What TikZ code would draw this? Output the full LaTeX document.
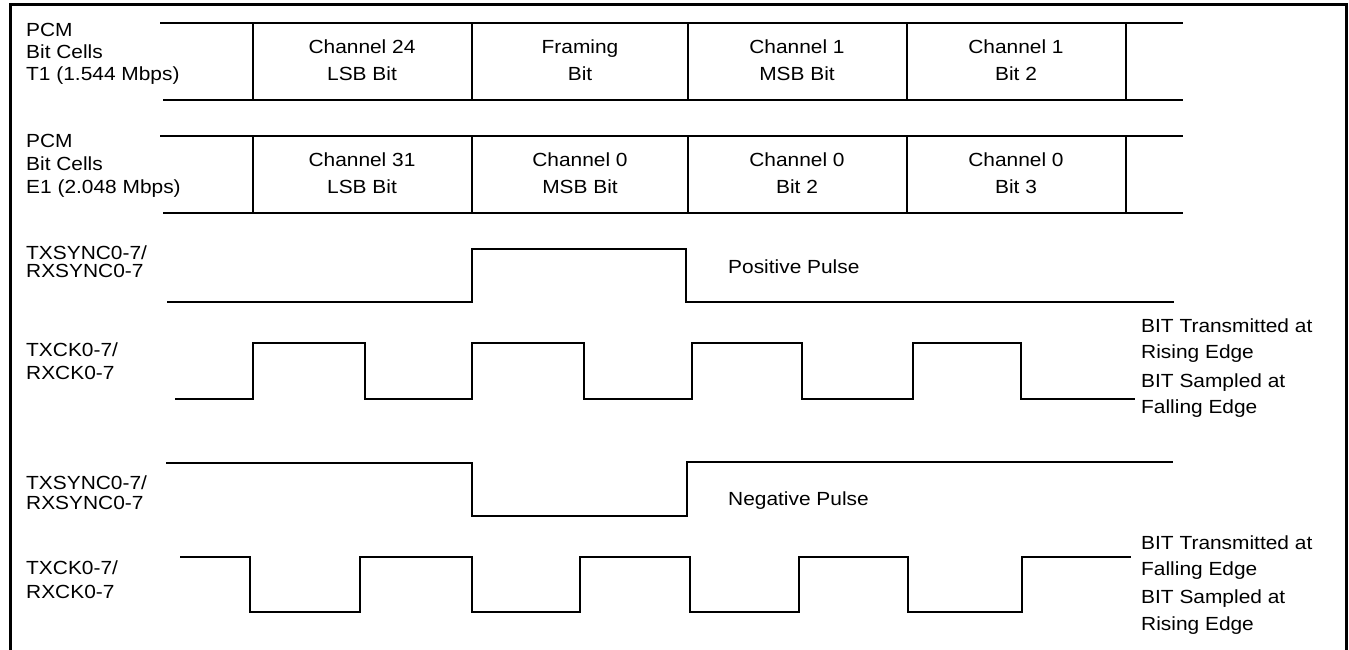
\documentclass[tikz,border=0pt]{standalone}
\usepackage{fontspec}
\setmainfont{Liberation Sans}[FakeStretch=1.1]
\begin{document}
\begin{tikzpicture}[x=1pt,y=-1pt,
  frame/.style={line width=3pt},
  sig/.style={line width=1.8pt,line join=miter},
  txt/.style={font=\fontsize{19}{22}\selectfont,inner sep=0pt},
  lbl/.style={txt,anchor=base west},
  ctr/.style={txt,anchor=base}]
\useasboundingbox (0,0) rectangle (1349,650);
% outer frame
\draw[frame] (10,650) -- (10,5) -- (1346,5) -- (1346,650);

% ---- bit cell rows
\foreach \yt/\yb in {23/100,136/213}{
  \draw[sig] (160,\yt) -- (1183,\yt);
  \draw[sig] (163,\yb) -- (1183,\yb);
  \foreach \x in {253,472,688,907,1126}
    \draw[sig] (\x,\yt) -- (\x,\yb);
}
% left labels
\node[lbl] (p1) at (26,37) {PCM};
\node[lbl] (b1) at (26,59) {Bit Cells};
\node[lbl] (t1) at (26,81) {T1 (1.544 Mbps)};
\node[lbl] (p2) at (26,148) {PCM};
\node[lbl] (b2) at (26,170) {Bit Cells};
\node[lbl] (e1) at (26,193) {E1 (2.048 Mbps)};
\node[lbl] (s1a) at (26,259) {TXSYNC0-7/};
\node[lbl] (s1b) at (26,277) {RXSYNC0-7};
\node[lbl] (c1a) at (26,356) {TXCK0-7/};
\node[lbl] (c1b) at (26,379) {RXCK0-7};
\node[lbl] (s2a) at (26,489) {TXSYNC0-7/};
\node[lbl] (s2b) at (26,509) {RXSYNC0-7};
\node[lbl] (c2a) at (26,574) {TXCK0-7/};
\node[lbl] (c2b) at (26,598) {RXCK0-7};

% cell texts T1
\node[ctr] (a1) at (362,54) {Channel 24};
\node[ctr] (a2) at (362,81) {LSB Bit};
\node[ctr] (a3) at (580,54) {Framing};
\node[ctr] (a4) at (580,81) {Bit};
\node[ctr] (a5) at (797,54) {Channel 1};
\node[ctr] (a6) at (797,81) {MSB Bit};
\node[ctr] (a7) at (1016,54) {Channel 1};
\node[ctr] (a8) at (1016,81) {Bit 2};
% cell texts E1
\node[ctr] (d1) at (362,166) {Channel 31};
\node[ctr] (d2) at (362,193) {LSB Bit};
\node[ctr] (d3) at (580,166) {Channel 0};
\node[ctr] (d4) at (580,193) {MSB Bit};
\node[ctr] (d5) at (797,166) {Channel 0};
\node[ctr] (d6) at (797,193) {Bit 2};
\node[ctr] (d7) at (1016,166) {Channel 0};
\node[ctr] (d8) at (1016,193) {Bit 3};

% ---- positive sync
\draw[sig] (167,302) -- (472,302) -- (472,249) -- (686,249) -- (686,302) -- (1174,302);
\node[lbl] (pp) at (728,273) {Positive Pulse};
% ---- clock 1
\draw[sig] (175,399) -- (253,399) -- (253,343) -- (365,343) -- (365,399)
  -- (472,399) -- (472,343) -- (584,343) -- (584,399)
  -- (692,399) -- (692,343) -- (802,343) -- (802,399)
  -- (913,399) -- (913,343) -- (1021,343) -- (1021,399) -- (1135,399);
\node[lbl] (r1) at (1141,332) {BIT Transmitted at};
\node[lbl] (r2) at (1141,358) {Rising Edge};
\node[lbl] (r3) at (1141,387) {BIT Sampled at};
\node[lbl] (r4) at (1141,413) {Falling Edge};

% ---- negative sync
\draw[sig] (166,463) -- (472,463) -- (472,516) -- (687,516) -- (687,462) -- (1173,462);
\node[lbl] (np) at (728,505) {Negative Pulse};
% ---- clock 2
\draw[sig] (180,557) -- (250,557) -- (250,612) -- (360,612) -- (360,557)
  -- (472,557) -- (472,612) -- (580,612) -- (580,557)
  -- (690,557) -- (690,612) -- (799,612) -- (799,557)
  -- (908,557) -- (908,612) -- (1022,612) -- (1022,557) -- (1131,557);
\node[lbl] (f1) at (1141,549) {BIT Transmitted at};
\node[lbl] (f2) at (1141,575) {Falling Edge};
\node[lbl] (f3) at (1141,603) {BIT Sampled at};
\node[lbl] (f4) at (1141,630) {Rising Edge};
\end{tikzpicture}
\end{document}
